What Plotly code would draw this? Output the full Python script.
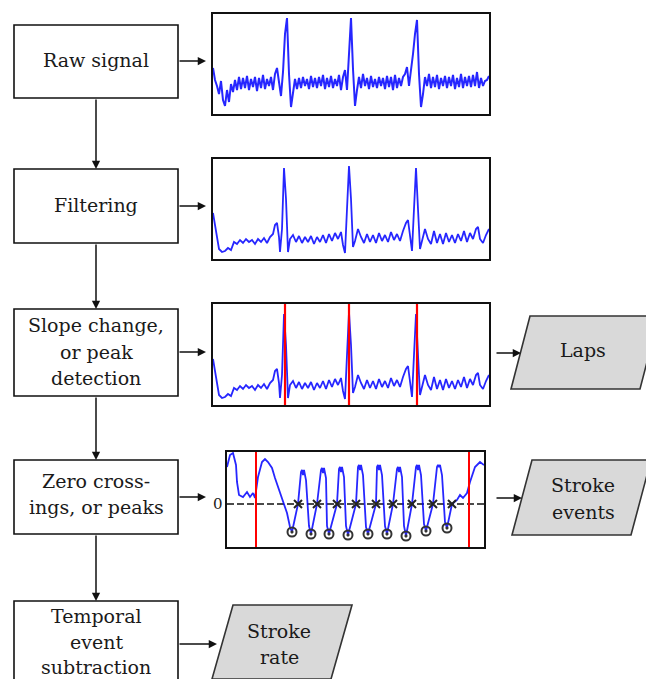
import plotly.graph_objects as go

W, H = 646, 679

# ---------------- data ----------------
raw_step = 2
raw_signal = [46, 34, 28, 20, 33, 14, 8, 24, 12, 30,
              22, 34, 24, 37, 25, 36, 26, 38, 24, 35,
              27, 37, 23, 36, 26, 39, 25, 35, 28, 37,
              24, 40, 46, 30, 18, 42, 80, 96, 40, 7,
              22, 35, 25, 36, 26, 37, 28, 35, 25, 38,
              27, 36, 26, 37, 28, 39, 25, 36, 27, 38,
              26, 35, 28, 39, 24, 37, 44, 24, 60, 96,
              45, 8, 24, 37, 26, 40, 28, 36, 25, 38,
              27, 35, 26, 37, 28, 36, 25, 38, 27, 37,
              24, 39, 26, 36, 28, 37, 40, 47, 28, 42,
              60, 80, 94, 40, 7, 20, 37, 28, 40, 26,
              37, 27, 39, 25, 36, 28, 38, 26, 37, 28,
              39, 25, 36, 27, 40, 26, 37, 28, 38, 27,
              39, 28, 42, 26, 36, 28, 33, 34, 38]
raw_time = [i * raw_step for i in range(len(raw_signal))]

filt_time = [0, 3, 6, 9, 12, 15, 18, 21, 24, 27, 30, 33, 36, 39, 42, 45, 48, 51, 54, 57,
             60, 62, 64, 66, 67, 69, 71, 73, 75, 77, 80, 83, 86, 89, 92, 95, 98, 101, 104, 107,
             110, 113, 116, 119, 122, 125, 128, 130, 132, 134, 136, 138, 140, 142, 145, 148, 151,
             154, 157, 160, 163, 166, 169, 172, 175, 178, 181, 184, 187, 190, 193, 195, 197, 199,
             201, 203, 205, 207, 209, 212, 215, 218, 221, 224, 227, 230, 233, 236, 239, 242, 245,
             248, 251, 254, 257, 260, 263, 265, 267, 270, 273, 276]
filt_signal = [46, 28, 10, 7, 8, 11, 9, 17, 15, 19, 16, 20, 17, 19, 15, 20, 17, 21, 16, 22,
               25, 34, 36, 22, 7, 30, 91, 60, 7, 20, 24, 17, 23, 16, 22, 17, 23, 15, 22, 17,
               24, 16, 25, 18, 26, 20, 27, 14, 6, 50, 93, 60, 12, 18, 30, 22, 16,
               25, 17, 24, 16, 26, 18, 24, 17, 27, 19, 25, 18, 28, 36, 39, 25, 8,
               50, 91, 50, 10, 18, 30, 20, 15, 28, 16, 25, 15, 26, 17, 24, 16, 25,
               18, 28, 17, 26, 20, 30, 32, 20, 16, 24, 30]
lap_times = [72, 136, 204]

zc_time = [0, 3, 6, 9, 10, 12, 16, 20, 23, 26, 28, 31, 35, 38, 41, 45, 48, 53, 56, 60, 63,
           65, 71, 74, 75, 76, 77, 79, 82,
           84, 90, 94, 95, 96, 97, 99, 100,
           102, 110, 112, 113, 114, 115, 117, 119,
           121, 129, 131, 132, 133, 134, 136, 139,
           141, 149, 150, 151, 152, 153, 155, 158,
           160, 166, 170, 171, 172, 173, 175, 177,
           179, 185, 189, 190, 191, 192, 194, 197,
           199, 206, 210, 211, 212, 213, 215, 218,
           220, 225, 230, 233, 236, 240, 243, 248, 253, 257]
zc_signal = [37, 49, 51, 39, 22, 9, 7, 12, 7, 11, 6, 27, 42, 45, 42, 36, 26, 12, 4, -9, -23,
             -28, 0, 32, 34, 29, 34, 24, -22,
             -30, 0, 34, 36, 31, 36, 26, -22,
             -30, 0, 35, 37, 32, 37, 27, -22,
             -31, 0, 37, 39, 34, 39, 29, -23,
             -30, 0, 37, 39, 34, 39, 29, -22,
             -30, 0, 35, 37, 32, 37, 27, -22,
             -32, 0, 37, 39, 34, 39, 29, -20,
             -27, 0, 37, 39, 37, 39, 29, -18,
             -24, 0, 4, 9, 6, 11, 22, 37, 42, 39]
trough_time = [65, 84, 102, 121, 141, 160, 179, 199, 220]
trough_value = [-28, -30, -30, -31, -30, -30, -32, -27, -24]
crossing_time = [71, 90, 110, 129, 149, 166, 185, 206, 225]
segment_bounds = [29, 242]

box_labels = [["Raw signal"], ["Filtering"], ["Slope change,", "or peak", "detection"],
              ["Zero cross-", "ings, or peaks"], ["Temporal", "event", "subtraction"]]
output_labels = [["Laps"], ["Stroke", "events"], ["Stroke", "rate"]]

# ---------------- layout geometry (pixels) ----------------
FONT = "DejaVu Serif"
FS = 19
TXT = "#1a1a1a"
BLUE = "rgba(0,0,255,0.85)"

boxes = [(14, 25, 178, 98), (14, 169, 178, 243), (14, 309, 178, 396),
         (14, 460, 178, 534), (14, 601, 178, 720)]
box_text_y = [[60], [205], [325, 352, 378], [481, 507], [616, 642, 667]]

paras = [  # (top-left x, top y, top-right x, bottom y, slant)
    (530, 316, 659, 389, 19),
    (532, 460, 651, 535, 20),
    (233, 605, 352, 679, 21),
]
para_text = [(583, [350]), (583, [485, 512]), (279, [631, 657])]

plots = {  # name: (x0, y0, x1, y1)
    "p1": (213, 14, 489, 114),
    "p2": (213, 159, 489, 259),
    "p3": (213, 304, 489, 405),
    "p4": (227, 452, 484, 547),
}


def xdom(a, b):
    return [a / W, b / W]


def ydom(top, bottom):
    return [1 - bottom / H, 1 - top / H]


fig = go.Figure()

# plot 1 : raw signal
fig.add_trace(go.Scatter(x=raw_time, y=raw_signal, mode="lines",
                         line=dict(color=BLUE, width=2), xaxis="x2", yaxis="y2"))
# plot 2 : filtered
fig.add_trace(go.Scatter(x=filt_time, y=filt_signal, mode="lines",
                         line=dict(color=BLUE, width=1.8), xaxis="x3", yaxis="y3"))
# plot 3 : filtered + laps
fig.add_trace(go.Scatter(x=filt_time, y=filt_signal, mode="lines",
                         line=dict(color=BLUE, width=1.8), xaxis="x4", yaxis="y4"))
lx, ly = [], []
for t in lap_times:
    lx += [t, t, None]
    ly += [-10, 110, None]
fig.add_trace(go.Scatter(x=lx, y=ly, mode="lines", line=dict(color="red", width=2.2),
                         xaxis="x4", yaxis="y4"))
# plot 4 : zero crossings
fig.add_trace(go.Scatter(x=[0, 257], y=[0, 0], mode="lines",
                         line=dict(color="#111", width=1.5, dash="7px,3px"),
                         xaxis="x5", yaxis="y5"))
fig.add_trace(go.Scatter(x=zc_time, y=zc_signal, mode="lines",
                         line=dict(color=BLUE, width=1.8), xaxis="x5", yaxis="y5"))
sx, sy = [], []
for t in segment_bounds:
    sx += [t, t, None]
    sy += [-60, 60, None]
fig.add_trace(go.Scatter(x=sx, y=sy, mode="lines", line=dict(color="red", width=2),
                         xaxis="x5", yaxis="y5"))
fig.add_trace(go.Scatter(x=crossing_time, y=[0] * len(crossing_time), mode="markers",
                         marker=dict(symbol="x-thin-open", size=8, color="#222",
                                     line=dict(width=2, color="#222")),
                         xaxis="x5", yaxis="y5"))
fig.add_trace(go.Scatter(x=trough_time, y=trough_value, mode="markers",
                         marker=dict(symbol="circle-open-dot", size=9, color="#333",
                                     line=dict(width=2, color="#333")),
                         xaxis="x5", yaxis="y5"))

shapes = []
annotations = []

for (x0, y0, x1, y1) in boxes:
    shapes.append(dict(type="rect", xref="x", yref="y", x0=x0, y0=y0, x1=x1, y1=y1,
                       line=dict(color="#111", width=1.6), fillcolor="white", layer="below"))
for lines, ys in zip(box_labels, box_text_y):
    for txt, yy in zip(lines, ys):
        annotations.append(dict(x=96, y=yy, xref="x", yref="y", text=txt, showarrow=False,
                                font=dict(family=FONT, size=FS, color=TXT)))

for (tlx, ty, trx, by, s), lines, (cx, ys) in zip(paras, output_labels, para_text):
    path = f"M {tlx} {ty} L {trx} {ty} L {trx - s} {by} L {tlx - s} {by} Z"
    shapes.append(dict(type="path", xref="x", yref="y", path=path,
                       line=dict(color="#333", width=1.6), fillcolor="#d9d9d9", layer="below"))
    for txt, yy in zip(lines, ys):
        annotations.append(dict(x=cx, y=yy, xref="x", yref="y", text=txt, showarrow=False,
                                font=dict(family=FONT, size=FS, color=TXT)))

# arrows (tail -> head)
arrows = [
    ((96, 98), (96, 169)), ((96, 243), (96, 309)), ((96, 396), (96, 460)), ((96, 534), (96, 601)),
    ((178, 61), (206, 61)), ((178, 206), (206, 206)), ((178, 352), (206, 352)),
    ((178, 497), (206, 497)), ((178, 644), (217, 644)),
    ((495, 353), (521, 353)), ((495, 498), (522, 498)),
]
for (tx, ty), (hx, hy) in arrows:
    annotations.append(dict(x=hx, y=hy, ax=tx, ay=ty, xref="x", yref="y", axref="x", ayref="y",
                            text="", showarrow=True, arrowhead=2, arrowsize=1.1,
                            arrowwidth=1.5, arrowcolor="#111", standoff=0))

annotations.append(dict(x=218, y=504, xref="x", yref="y", text="0", showarrow=False,
                        font=dict(family=FONT, size=15, color=TXT)))

frame = dict(showline=True, mirror=True, linecolor="#111", linewidth=2, showticklabels=False,
             ticks="", showgrid=False, zeroline=False, fixedrange=True)

layout = dict(
    width=W, height=H, margin=dict(l=0, r=0, t=0, b=0),
    paper_bgcolor="white", plot_bgcolor="rgba(0,0,0,0)", showlegend=False,
    xaxis=dict(domain=[0, 1], range=[0, W], visible=False, fixedrange=True),
    yaxis=dict(domain=[0, 1], range=[H, 0], visible=False, fixedrange=True),
    shapes=shapes, annotations=annotations,
)
p = plots["p1"]
layout["xaxis2"] = dict(domain=xdom(p[0], p[2]), range=[0, 276], anchor="y2", **frame)
layout["yaxis2"] = dict(domain=ydom(p[1], p[3]), range=[0, 100], anchor="x2", **frame)
p = plots["p2"]
layout["xaxis3"] = dict(domain=xdom(p[0], p[2]), range=[0, 276], anchor="y3", **frame)
layout["yaxis3"] = dict(domain=ydom(p[1], p[3]), range=[0, 100], anchor="x3", **frame)
p = plots["p3"]
layout["xaxis4"] = dict(domain=xdom(p[0], p[2]), range=[0, 276], anchor="y4", **frame)
layout["yaxis4"] = dict(domain=ydom(p[1], p[3]), range=[0, 101], anchor="x4", **frame)
p = plots["p4"]
layout["xaxis5"] = dict(domain=xdom(p[0], p[2]), range=[0, 257], anchor="y5", **frame)
layout["yaxis5"] = dict(domain=ydom(p[1], p[3]), range=[-43, 52], anchor="x5", **frame)

fig.update_layout(**layout)
fig.write_html("out.html", config={"displayModeBar": False},
               post_script="document.body.style.margin='0px';document.body.style.overflow='hidden';")
